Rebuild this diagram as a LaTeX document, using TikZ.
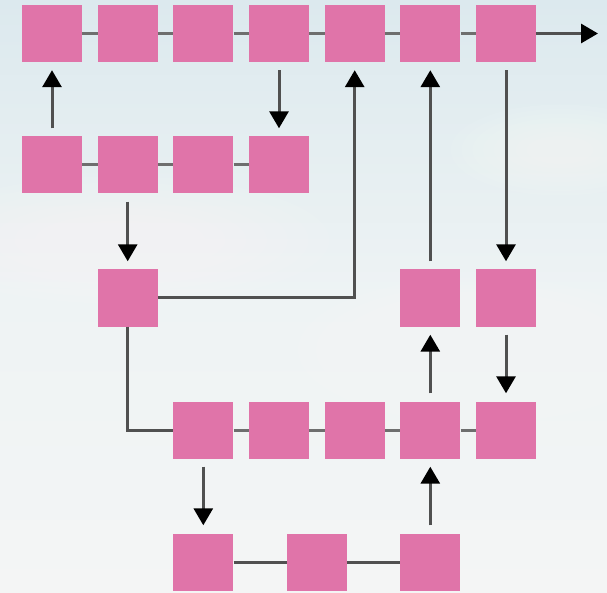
\documentclass[tikz,border=0pt]{standalone}
\usetikzlibrary{arrows.meta}
\definecolor{cellpink}{HTML}{E074A9}
\definecolor{linkgray}{HTML}{6E6E6E}
\definecolor{flowgray}{HTML}{505050}
\definecolor{skytop}{HTML}{DCE9EE}
\definecolor{skymid}{HTML}{EEF3F4}
\definecolor{skylow}{HTML}{F4F5F5}
\tikzset{
  cell/.style={fill=cellpink, draw=none, minimum width=60pt, minimum height=57pt, inner sep=0pt},
  link/.style={draw=linkgray, line width=3pt},
  flow/.style={draw=flowgray, line width=3pt, -{Triangle[width=19pt,length=17pt,fill=black,color=black]}},
  pipe/.style={draw=flowgray, line width=3pt},
}
% soft cloud bank: stacked translucent ellipses
\newcommand{\cloudbank}[4]{%
  \foreach \k in {1,...,8}
    \fill[white, opacity=0.07] (#1,#2) ellipse ({#3*(1-0.09*\k)} and {#4*(1-0.09*\k)});
}
\begin{document}
\begin{tikzpicture}[x=1pt,y=-1pt]
  \useasboundingbox (0,0) rectangle (607,593);
  % sky background with soft cloud banks
  \begin{scope}
    \clip (0,0) rectangle (607,593);
    \shade[top color=skytop, bottom color=skylow, middle color=skymid] (0,0) rectangle (607,593);
    \cloudbank{120}{240}{230}{70}
    \cloudbank{480}{350}{200}{80}
    \cloudbank{300}{530}{360}{90}
    \cloudbank{560}{150}{120}{50}
  \end{scope}

  % row 1
  \foreach \i/\x in {1/52,2/127.7,3/203.3,4/279,5/354.7,6/430.3,7/506}
    \node[cell] (a\i) at (\x,33.5) {};
  % row 2
  \foreach \i/\x in {1/52,2/127.7,3/203.3,4/279}
    \node[cell] (b\i) at (\x,165) {};
  % row 3
  \node[cell] (c1) at (127.7,298) {};
  \node[cell] (c2) at (430.3,298) {};
  \node[cell] (c3) at (506,298) {};
  % row 4
  \foreach \i/\x in {1/203.3,2/279,3/354.7,4/430.3,5/506}
    \node[cell] (d\i) at (\x,430) {};
  % row 5
  \node[cell] (e1) at (203.3,562) {};
  \node[cell] (e2) at (317,562) {};
  \node[cell] (e3) at (430.3,562) {};

  \coordinate (out) at (598,33.5);
  \coordinate (c1turn) at (a5 |- c1);
  \coordinate (c1down) at (c1 |- d1);

  % chains
  \foreach \p/\q in {a1/a2,a2/a3,a3/a4,a4/a5,a5/a6,a6/a7,b1/b2,b2/b3,b3/b4,d1/d2,d2/d3,d3/d4,d4/d5}
    \draw[link] (\p.east) -- (\q.west);
  \draw[pipe] (e1.east) -- (e2.west);
  \draw[pipe] (e2.east) -- (e3.west);

  % flows
  \draw[flow] (a7.east) -- (out);
  \draw[flow, shorten <=8pt, shorten >=8pt] (b1.north) -- (a1.south);
  \draw[flow, shorten <=8pt, shorten >=8pt] (a4.south) -- (b4.north);
  \draw[flow, shorten <=8pt, shorten >=8pt] (b2.south) -- (c1.north);
  \draw[flow, shorten >=8pt] (c1.east) -- (c1turn) -- (a5.south);
  \draw[flow, shorten <=8pt, shorten >=8pt] (c2.north) -- (a6.south);
  \draw[flow, shorten <=8pt, shorten >=8pt] (a7.south) -- (c3.north);
  \draw[flow, shorten <=8pt, shorten >=8pt] (d4.north) -- (c2.south);
  \draw[flow, shorten <=8pt, shorten >=8pt] (c3.south) -- (d5.north);
  \draw[pipe] (c1.south) -- (c1down) -- (d1.west);
  \draw[flow, shorten <=8pt, shorten >=8pt] (d1.south) -- (e1.north);
  \draw[flow, shorten <=8pt, shorten >=8pt] (e3.north) -- (d4.south);
\end{tikzpicture}
\end{document}
